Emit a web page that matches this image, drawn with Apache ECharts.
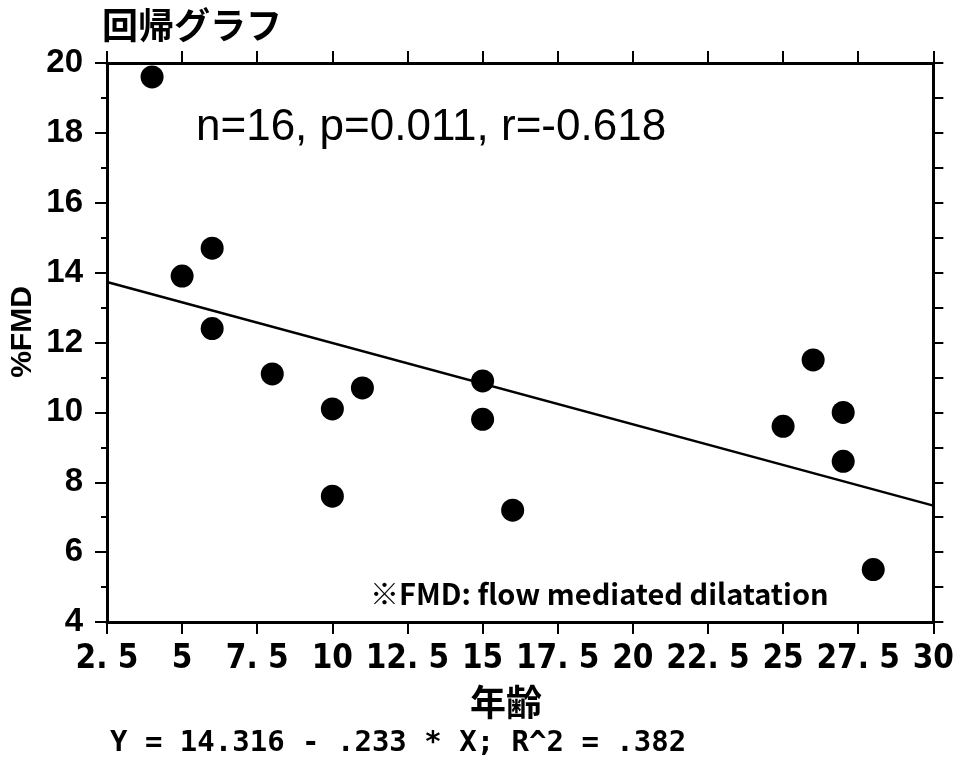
<!DOCTYPE html>
<html>
<head>
<meta charset="utf-8">
<script src="https://cdn.jsdelivr.net/npm/echarts@6/dist/echarts.min.js"></script>
<style>html,body{margin:0;padding:0;background:#fff}#c{width:957px;height:762px}</style>
</head>
<body>
<div id="c"></div>
<script>
// Data
const ageX = [4, 5, 6, 6, 8, 10, 10, 11, 15, 15, 16, 25, 26, 27, 27, 28];
const fmdY = [19.6, 13.9, 14.7, 12.4, 11.1, 10.1, 7.6, 10.7, 10.9, 9.8, 7.2, 9.6, 11.5, 10.0, 8.6, 5.5];
const fitX = [2.5, 30];
const fitY = [13.73, 7.33];
const xRange = [2.5, 30];
const xStep = 2.5;
const yRange = [4, 20];
const yStep = 2;
const titleText = '回帰グラフ';
const statText = 'n=16, p=0.011, r=-0.618';
const noteText = '※FMD: flow mediated dilatation';
const eqText = 'Y = 14.316 - .233 * X; R^2 = .382';
const xName = '年齢';
const yName = '%FMD';

const chart = echarts.init(document.getElementById('c'), null, {renderer: 'canvas'});
const axisLine = {show: true, onZero: false, lineStyle: {color: '#000', width: 3}};
const option = {
  animation: false,
  backgroundColor: '#fff',
  grid: {left: 107, right: 20, top: 63, bottom: 140, containLabel: false},
  xAxis: [{
    type: 'value', position: 'bottom', min: xRange[0], max: xRange[1], interval: xStep,
    axisLine: axisLine,
    axisTick: {show: true, length: 12, lineStyle: {color: '#000', width: 2}},
    axisLabel: {
      margin: 21, color: '#000',
      fontFamily: '"Liberation Sans Narrow","DejaVu Sans Condensed","Liberation Sans",sans-serif',
      fontWeight: 'bold', fontSize: 33,
      formatter: v => String(v).replace('.', '. ')
    },
    splitLine: {show: false}
  }, {
    type: 'value', position: 'top', min: xRange[0], max: xRange[1], interval: xStep,
    axisLine: axisLine,
    axisTick: {show: true, length: 12, lineStyle: {color: '#000', width: 2}},
    axisLabel: {show: false}, splitLine: {show: false}
  }],
  yAxis: [{
    type: 'value', position: 'left', min: yRange[0], max: yRange[1], interval: yStep,
    axisLine: axisLine,
    axisTick: {show: true, length: 12, lineStyle: {color: '#000', width: 2}},
    minorTick: {show: true, splitNumber: 2, length: 6, lineStyle: {color: '#000', width: 2}},
    axisLabel: {margin: 24, color: '#000', fontFamily: '"Liberation Sans",Arial,sans-serif', fontWeight: 'bold', fontSize: 33},
    splitLine: {show: false}, minorSplitLine: {show: false}
  }, {
    type: 'value', position: 'right', min: yRange[0], max: yRange[1], interval: 1,
    axisLine: axisLine,
    axisTick: {show: true, length: 10, lineStyle: {color: '#000', width: 2}},
    axisLabel: {show: false}, splitLine: {show: false}
  }],
  series: [{
    type: 'line', xAxisIndex: 0, yAxisIndex: 0,
    data: fitX.map((x, i) => [x, fitY[i]]),
    showSymbol: false, symbol: 'none',
    lineStyle: {color: '#000', width: 2.5}, z: 2
  }, {
    type: 'scatter', xAxisIndex: 0, yAxisIndex: 0,
    data: ageX.map((x, i) => [x, fmdY[i]]),
    symbol: 'circle', symbolSize: 23,
    itemStyle: {color: '#000', opacity: 1}, z: 3
  }],
  graphic: [
    {type: 'text', left: 102, top: 7, style: {text: titleText, font: 'bold 36px "Noto Sans CJK JP"', fill: '#000'}},
    {type: 'text', left: 196, top: 106, style: {text: statText, font: '44px "Liberation Sans"', fill: '#000'}},
    {type: 'text', left: 370, top: 579, style: {text: noteText, font: 'bold 29px "Noto Sans CJK JP"', fill: '#000'}},
    {type: 'text', left: 470, top: 684, style: {text: xName, font: 'bold 36px "Noto Sans CJK JP"', fill: '#000'}},
    {type: 'text', left: 110, top: 729, style: {text: eqText, font: 'bold 29px "DejaVu Sans Mono"', fill: '#000'}},
    {type: 'text', x: 23, y: 332, rotation: Math.PI / 2,
     style: {text: yName, font: 'bold 30px "Liberation Sans Narrow","Liberation Sans"', fill: '#000', align: 'center', verticalAlign: 'middle'}}
  ]
};
chart.setOption(option);
</script>
</body>
</html>
